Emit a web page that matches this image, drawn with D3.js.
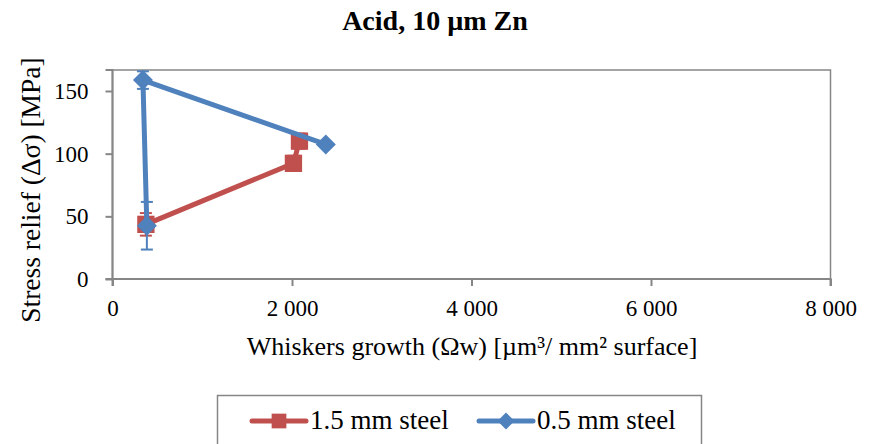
<html>
  <head>
    <title>Acid, 10 µm Zn</title>
    <script src="https://d3js.org/d3.v7.min.js"></script>
  </head>
  <body style="margin:0">
    <svg width="874" height="444" id="chart" style="background: #FFF"></svg>
  </body>

  <script type="text/javascript">
    var xTicks = [0, 2000, 4000, 6000, 8000];
    var yTicks = [0, 50, 100, 150];

    var steel15X = [372, 2016, 2083];
    var steel15Y = [43.6, 92.3, 110];
    var steel15Err = [9, 6, 6];

    var steel05X = [383, 339, 2377];
    var steel05Y = [42.5, 158.7, 107.4];
    var steel05Err = [19, 7, 2];

    var red = "#C0504D", blue = "#4F81BD", grey = "#868686";
    var font = "Liberation Serif, Times New Roman, serif";

    var svg = d3.select("#chart");

    var x = d3.scaleLinear().domain([0, 8000]).range([112.5, 830.5]);
    var y = d3.scaleLinear().domain([0, 150]).range([279, 91]);
    var yTop = y.invert(70);
    y.domain([0, yTop]).range([279, 70]);

    var fmt = function(d){ return d3.format(",")(d).replace(/,/g, " "); };

    // plot frame
    svg.append("rect")
        .attr("x", x(0)).attr("y", y(yTop))
        .attr("width", x(8000) - x(0)).attr("height", y(0) - y(yTop))
        .attr("fill", "none").attr("stroke", grey).attr("stroke-width", 1.5);

    var xAxis = svg.append("g")
        .attr("transform", "translate(0," + y(0) + ")")
        .call(d3.axisBottom(x).tickValues(xTicks).tickFormat(fmt).tickSize(7).tickPadding(14));
    var yAxis = svg.append("g")
        .attr("transform", "translate(" + x(0) + ",0)")
        .call(d3.axisLeft(y).tickValues(yTicks).tickSize(7).tickPadding(17));

    [xAxis, yAxis].forEach(function(a){
        a.attr("font-family", font).attr("font-size", 23);
        a.select(".domain").attr("stroke", grey).attr("stroke-width", 2);
        a.selectAll(".tick line").attr("stroke", grey).attr("stroke-width", 2);
        a.selectAll(".tick text").attr("fill", "#000");
    });
    xAxis.select(".domain").attr("d", "M" + x(0) + ",7V0H" + x(8000) + "V7");
    yAxis.select(".domain").attr("d", "M-7," + y(yTop) + "H0V" + y(0) + "H-7");

    function series(xs, ys, errs, color, marker) {
        var pts = xs.map(function(v, i){ return {x: v, y: ys[i], e: errs[i]}; });
        var line = d3.line().x(function(d){ return x(d.x); }).y(function(d){ return y(d.y); });
        svg.append("path").attr("d", line(pts))
            .attr("fill", "none").attr("stroke", color).attr("stroke-width", 5)
            .attr("stroke-linejoin", "round");

        var eb = svg.append("g").attr("stroke", color).attr("stroke-width", 2);
        pts.forEach(function(d){
            eb.append("line").attr("x1", x(d.x)).attr("x2", x(d.x))
                .attr("y1", y(d.y - d.e)).attr("y2", y(d.y + d.e));
            [d.y - d.e, d.y + d.e].forEach(function(v){
                eb.append("line").attr("x1", x(d.x) - 6).attr("x2", x(d.x) + 6)
                    .attr("y1", y(v)).attr("y2", y(v));
            });
        });

        svg.append("g").selectAll("path").data(pts).enter().append("path")
            .attr("transform", function(d){ return "translate(" + x(d.x) + "," + y(d.y) + ")"; })
            .attr("d", marker)
            .attr("fill", color);
    }

    var square = d3.symbol().type(d3.symbolSquare).size(300)();
    var diamond = "M0,-10L10,0L0,10L-10,0Z";

    series(steel15X, steel15Y, steel15Err, red, square);
    series(steel05X, steel05Y, steel05Err, blue, diamond);

    // titles
    svg.append("text").attr("x", 435).attr("y", 30)
        .attr("text-anchor", "middle").attr("font-family", font)
        .attr("font-size", 28).attr("font-weight", "bold")
        .text("Acid, 10 µm Zn");

    svg.append("text").attr("x", 472).attr("y", 355)
        .attr("text-anchor", "middle").attr("font-family", font).attr("font-size", 26)
        .text("Whiskers growth (Ωw) [µm³/ mm² surface]");

    svg.append("text")
        .attr("transform", "translate(40,190) rotate(-90)")
        .attr("text-anchor", "middle").attr("font-family", font).attr("font-size", 27.5)
        .text("Stress relief (Δσ) [MPa]");

    // legend
    svg.append("rect").attr("x", 217.5).attr("y", 395.5)
        .attr("width", 484).attr("height", 60)
        .attr("fill", "#FFF").attr("stroke", grey).attr("stroke-width", 1.5);

    var legendItems = [
        {label: "1.5 mm steel", color: red, marker: square, x0: 252},
        {label: "0.5 mm steel", color: blue, marker: diamond, x0: 479}
    ];
    var lg = svg.append("g").selectAll("g").data(legendItems).enter().append("g")
        .attr("transform", function(d){ return "translate(" + d.x0 + ",421)"; });
    lg.append("line").attr("x1", 0).attr("x2", 54)
        .attr("stroke", function(d){ return d.color; }).attr("stroke-width", 5)
        .attr("stroke-linecap", "round");
    lg.append("path").attr("transform", "translate(27,0) scale(0.85)")
        .attr("d", function(d){ return d.marker; })
        .attr("fill", function(d){ return d.color; });
    lg.append("text").attr("x", 58).attr("y", 8)
        .attr("font-family", font).attr("font-size", 27)
        .text(function(d){ return d.label; });
  </script>
</html>
